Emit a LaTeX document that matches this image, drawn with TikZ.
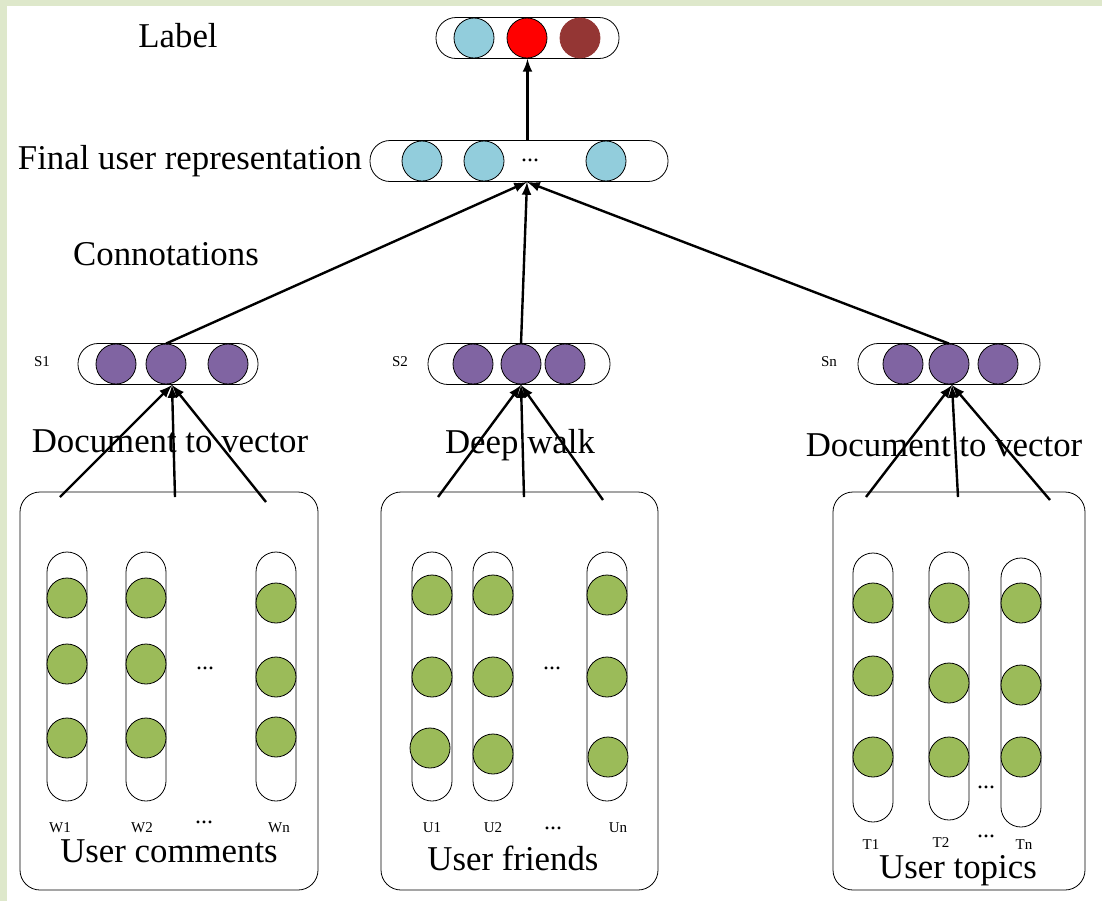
\documentclass[tikz,border=0pt]{standalone}
\usepackage{fontspec}
\setmainfont{Liberation Serif}
\usetikzlibrary{arrows,positioning}
\definecolor{lblue}{HTML}{92CDDC}
\definecolor{lred}{HTML}{FF0000}
\definecolor{lbrown}{HTML}{943634}
\definecolor{cpurple}{HTML}{8064A2}
\definecolor{cgreen}{HTML}{9BBB59}
\definecolor{rim}{HTML}{DEE8CB}

\begin{document}
\begin{tikzpicture}[x=0.5pt,y=-0.5pt,
  vec/.style={draw,rounded corners=10pt,minimum height=20.5pt,inner sep=0pt},
  col/.style={draw,rounded corners=10pt,minimum width=20pt,inner sep=0pt},
  cell/.style={circle,draw,minimum size=20pt,inner sep=0pt,fill=#1},
  panel/.style={draw,rounded corners=10pt,minimum height=199pt,inner sep=0pt},
  big/.style={font=\fontsize{17.4}{20}\selectfont},
  tag/.style={font=\fontsize{7.5}{9}\selectfont},
  ellip/.style={font=\fontsize{12}{14}\selectfont}]
\useasboundingbox (0,0) rectangle (1102,901);
\fill[rim] (0,0) rectangle (7,901);
\fill[rim] (0,0) rectangle (1102,6);
%
\node[vec,minimum width=91.5pt] (lab) at (527.5,38) {};
\node[cell=lblue] (l1) at (474,38) {};
\node[cell=lred] (l2) at (527,38) {};
\node[cell=lbrown,draw=lbrown] (l3) at (580,38) {};
\node[big] (labtxt) at (178,36) {Label};
%
\node[vec,minimum width=149pt] (fin) at (519,161) {};
\node[cell=lblue] (f1) at (422,161) {};
\node[cell=lblue] (f2) at (484,161) {};
\node[ellip] (fd) at (530,160) {...};
\node[cell=lblue] (f3) at (606,161) {};
\node[big,anchor=east] (fintxt) at (369,161) {Final user representation};
\coordinate (fc) at (527,182);
\node[big] (contxt) at (166,254) {Connotations};
%
\node[vec,minimum width=90pt] (s1) at (168,364) {};
\node[cell=cpurple] (s1a) at (116,364) {};
\node[cell=cpurple] (s1b) at (166,364) {};
\node[cell=cpurple] (s1c) at (228,364) {};
\node[tag] (s1txt) at (42,362) {S1};
\node[vec,minimum width=91pt] (s2) at (519,364) {};
\node[cell=cpurple] (s2a) at (473,364) {};
\node[cell=cpurple] (s2b) at (521,364) {};
\node[cell=cpurple] (s2c) at (565,364) {};
\node[tag] (s2txt) at (400,362) {S2};
\node[vec,minimum width=91pt] (sn) at (949,364) {};
\node[cell=cpurple] (sna) at (903,364) {};
\node[cell=cpurple] (snb) at (949,364) {};
\node[cell=cpurple] (snc) at (998,364) {};
\node[tag] (sntxt) at (829,362) {Sn};
\coordinate (a1) at (172,385);
\coordinate (a2) at (521,385);
\coordinate (a3) at (952,385);
%
\node[big] (m1) at (170,441) {Document to vector};
\node[big] (m2) at (520,445) {Deep walk};
\node[big] (m3) at (944,445) {Document to vector};
%
\node[panel,minimum width=149pt] (p1) at (169,691) {};
\node[col,minimum height=124.5pt] (c11) at (67,676.5) {};
\node[col,minimum height=124.5pt] (c12) at (146,676.5) {};
\node[col,minimum height=124.5pt] (c13) at (276,676.5) {};
\node[cell=cgreen] (g111) at (67,598) {};
\node[cell=cgreen] (g112) at (67,664) {};
\node[cell=cgreen] (g113) at (67,738) {};
\node[cell=cgreen] (g121) at (146,598) {};
\node[cell=cgreen] (g122) at (146,664) {};
\node[cell=cgreen] (g123) at (146,738) {};
\node[cell=cgreen] (g131) at (276,603) {};
\node[cell=cgreen] (g132) at (276,677) {};
\node[cell=cgreen] (g133) at (276,737) {};
\node[ellip] (d11) at (205,668) {...};
\node[tag] (w1) at (60,828) {W1};
\node[tag] (w2) at (142,828) {W2};
\node[ellip] (d12) at (204,822) {...};
\node[tag] (wn) at (279,828) {Wn};
\node[big] (u1txt) at (169,851) {User comments};
%
\node[panel,minimum width=138.5pt] (p2) at (519.5,691) {};
\node[col,minimum height=124.5pt] (c21) at (432,676.5) {};
\node[col,minimum height=124.5pt] (c22) at (493,676.5) {};
\node[col,minimum height=124.5pt] (c23) at (607,676.5) {};
\node[cell=cgreen] (g211) at (432,595) {};
\node[cell=cgreen] (g212) at (432,677) {};
\node[cell=cgreen] (g213) at (430,748) {};
\node[cell=cgreen] (g221) at (493,595) {};
\node[cell=cgreen] (g222) at (493,677) {};
\node[cell=cgreen] (g223) at (493,754) {};
\node[cell=cgreen] (g231) at (607,595) {};
\node[cell=cgreen] (g232) at (607,677) {};
\node[cell=cgreen] (g233) at (608,757) {};
\node[ellip] (d21) at (552,668) {...};
\node[tag] (v1) at (432,828) {U1};
\node[tag] (v2) at (493,828) {U2};
\node[ellip] (d22) at (553,828) {...};
\node[tag] (vn) at (618,828) {Un};
\node[big] (u2txt) at (513,858) {User friends};
%
\node[panel,minimum width=126pt] (p3) at (959,691) {};
\node[col,minimum height=134.5pt] (c31) at (873,687.5) {};
\node[col,minimum height=134pt] (c32) at (949,686) {};
\node[col,minimum height=134.5pt] (c33) at (1021,692.5) {};
\node[cell=cgreen] (g311) at (873,603) {};
\node[cell=cgreen] (g312) at (873,676) {};
\node[cell=cgreen] (g313) at (873,757) {};
\node[cell=cgreen] (g321) at (949,603) {};
\node[cell=cgreen] (g322) at (949,683) {};
\node[cell=cgreen] (g323) at (949,757) {};
\node[cell=cgreen] (g331) at (1021,603) {};
\node[cell=cgreen] (g332) at (1021,685) {};
\node[cell=cgreen] (g333) at (1021,757) {};
\node[ellip] (d31) at (986,787) {...};
\node[tag] (t1) at (871,845) {T1};
\node[tag] (t2) at (941,843) {T2};
\node[ellip] (d32) at (986,836) {...};
\node[tag] (tn) at (1024,845) {Tn};
\node[big] (u3txt) at (958,871) {User topics};
%
\coordinate (b1a) at (60,497);
\coordinate (b1b) at (175,497);
\coordinate (b1c) at (266,502);
\coordinate (b2a) at (438,497);
\coordinate (b2b) at (524,497);
\coordinate (b2c) at (603,500);
\coordinate (b3a) at (866,497);
\coordinate (b3b) at (958,497);
\coordinate (b3c) at (1050,500);
\draw[->,>=latex,line width=1.2pt] (b1a) to (a1);
\draw[->,>=latex,line width=1.2pt] (b1b) to (a1);
\draw[->,>=latex,line width=1.2pt] (b1c) to (a1);
\draw[->,>=latex,line width=1.2pt] (b2a) to (a2);
\draw[->,>=latex,line width=1.2pt] (b2b) to (a2);
\draw[->,>=latex,line width=1.2pt] (b2c) to (a2);
\draw[->,>=latex,line width=1.2pt] (b3a) to (a3);
\draw[->,>=latex,line width=1.2pt] (b3b) to (a3);
\draw[->,>=latex,line width=1.2pt] (b3c) to (a3);
\draw[->,>=latex,line width=1.2pt] (s1b.north) to (fc);
\draw[->,>=latex,line width=1.2pt] (s2b.north) to (fc);
\draw[->,>=latex,line width=1.2pt] (snb.north) to (fc);
\draw[->,>=latex,line width=1.2pt] (fin.north -| lab.south) to (lab.south);
\end{tikzpicture}
\end{document}
